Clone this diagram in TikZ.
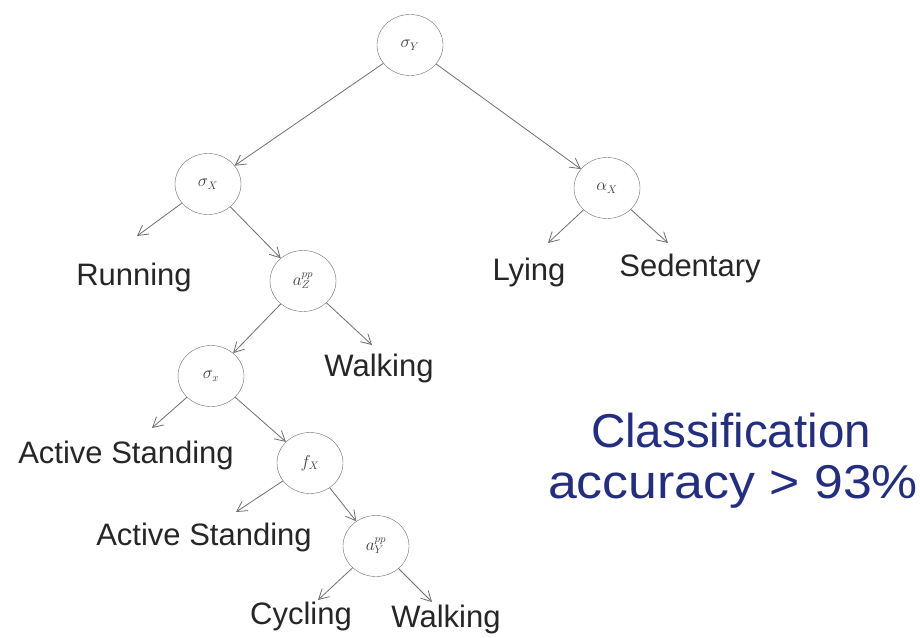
\documentclass[tikz,border=0pt]{standalone}
\usepackage{fontspec}
\setmainfont{Liberation Sans}
\usetikzlibrary{arrows.meta,shapes.geometric}
\definecolor{edgegray}{RGB}{110,110,110}
\definecolor{accblue}{RGB}{35,45,130}
\tikzset{
  split/.style={draw=edgegray, ellipse, minimum width=66pt, minimum height=61pt, inner sep=0pt, text=black!75, font=\fontsize{16}{16}\selectfont},
  leaf/.style={font=\fontsize{31}{31}\selectfont, inner sep=0pt, text=black!85},
  arr/.style={draw=edgegray, line width=0.8pt, -{Straight Barb[length=10pt,width=11pt]}},
  note/.style={font=\fontsize{47.5}{47.5}\selectfont, text=accblue, inner sep=0pt}
}
\begin{document}
\begin{tikzpicture}[x=1pt,y=-1pt]
\fill[white] (0,0) rectangle (920,637);
\useasboundingbox (0,0) rectangle (920,637);
% split nodes
\node[split] (root) at (410,45) {$\sigma_Y$};
\node[split] (sx) at (208,184) {$\sigma_X$};
\node[split] (ax) at (607,188) {$\alpha_X$};
\node[split] (az) at (303,281) {$a_Z^{pp}$};
\node[split] (sx2) at (211,376) {$\sigma_x$};
\node[split] (fx) at (310,463) {$f_X$};
\node[split] (ay) at (376,546) {$a_Y^{pp}$};
% leaves
\node[leaf] (run) at (134,277) {Running};
\node[leaf] (walk1) at (379,368) {Walking};
\node[leaf] (lying) at (529,272) {Lying};
\node[leaf] (sed) at (690,268) {Sedentary};
\node[leaf] (as1) at (126,455) {Active Standing};
\node[leaf] (as2) at (204,537) {Active Standing};
\node[leaf] (cyc) at (301,616) {Cycling};
\node[leaf] (walk2) at (446,619) {Walking};
% arrow ends above leaves
\coordinate (crun) at (137,236);
\coordinate (cwalk1) at (372,345);
\coordinate (clying) at (548,243);
\coordinate (csed) at (668,243);
\coordinate (cas1) at (152,428);
\coordinate (cas2) at (236,512);
\coordinate (ccyc) at (318,600);
\coordinate (cwalk2) at (432,602);
% connectors
\draw[arr] (root) -- (sx);
\draw[arr] (root) -- (ax);
\draw[arr] (sx) -- (crun);
\draw[arr] (sx) -- (az);
\draw[arr] (ax) -- (clying);
\draw[arr] (ax) -- (csed);
\draw[arr] (az) -- (sx2);
\draw[arr] (az) -- (cwalk1);
\draw[arr] (sx2) -- (cas1);
\draw[arr] (sx2) -- (fx);
\draw[arr] (fx) -- (cas2);
\draw[arr] (fx) -- (ay);
\draw[arr] (ay) -- (ccyc);
\draw[arr] (ay) -- (cwalk2);
% note
\node[note] (n1) at (731,431) {Classification};
\node[note, xscale=1.09] (n2) at (733,487) {accuracy > 93\%};
\end{tikzpicture}
\end{document}
